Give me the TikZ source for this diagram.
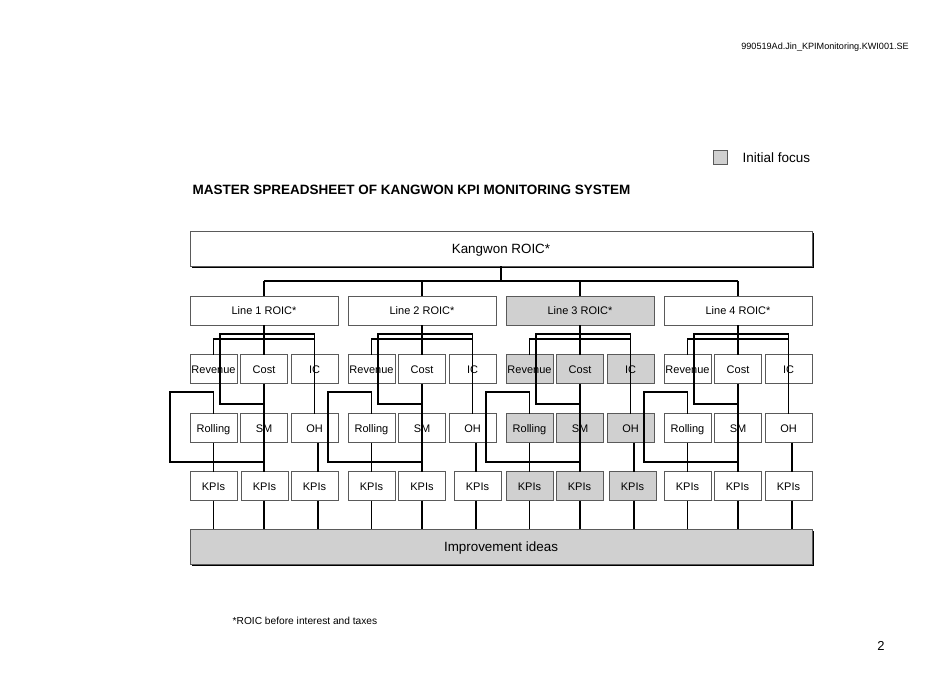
\documentclass[tikz,border=0pt]{standalone}
\usepackage{fontspec}
\setmainfont{Liberation Sans}
\usetikzlibrary{shadows}
\definecolor{focus}{HTML}{D0D0D0}
\definecolor{bord}{HTML}{5A5A5A}
\begin{document}
\begin{tikzpicture}[x=1pt,y=-1pt,
  box/.style={draw=bord, line width=0.8pt, inner sep=0pt, outer sep=0pt,
     minimum width=47pt, minimum height=29pt, text height=8pt, text depth=0pt,
     font=\fontsize{11}{13}\selectfont},
  linebox/.style={box, minimum width=148pt},
  bigbox/.style={draw=bord, line width=0.8pt, inner sep=0pt, outer sep=0pt,
     minimum width=622pt, minimum height=35pt, text height=9.6pt, text depth=0pt,
     font=\fontsize{13.4}{16}\selectfont,
     drop shadow={shadow xshift=2pt, shadow yshift=-2pt, fill=black, opacity=1}},
  conn/.style={draw=black, line width=1.7pt, line join=miter}]
\useasboundingbox (0,0) rectangle (950,673);

% texts
\node[anchor=east, inner sep=0pt, font=\fontsize{9.1}{11}\selectfont] (hdr) at (909,47) {990519Ad.Jin\_KPIMonitoring.KWI001.SE};
\node[anchor=west, inner sep=0pt, font=\fontsize{13.5}{16}\selectfont\bfseries] (title) at (192.5,190) {MASTER SPREADSHEET OF KANGWON KPI MONITORING SYSTEM};
\node[draw=bord, line width=0.8pt, fill=focus, minimum width=14pt, minimum height=14pt, inner sep=0pt] (leg) at (720,157) {};
\node[anchor=west, inner sep=0pt, font=\fontsize{13.5}{16}\selectfont] (legt) at (742.5,158) {Initial focus};
\node[anchor=west, inner sep=0pt, font=\fontsize{10.2}{12}\selectfont] (foot) at (232.5,621) {*ROIC before interest and taxes};
\node[inner sep=0pt, font=\fontsize{13}{15}\selectfont] (pnum) at (881,646) {2};

% big boxes
\node[bigbox, fill=white] (K) at (501,248.5) {Kangwon ROIC*};
\node[bigbox, fill=focus] (Imp) at (501,546.5) {Improvement ideas};

% global levels
\coordinate (topbus) at (0,281);
\coordinate (busA) at (0,334);
\coordinate (busB) at (0,339);
\coordinate (loopT) at (0,392);
\coordinate (busC) at (0,404);
\coordinate (loopB) at (0,462);

% groups: boxes
\foreach \g/\i/\fc/\ka/\kb/\kc in {0/1/white/213.5/264.5/314.5, 158/2/white/371.5/422/477.5, 316/3/focus/529.5/579.5/632.5, 474/4/white/687.5/737.5/788.5}{
  \node[linebox, fill=\fc] (L\i) at ({\g+264},310.5) {Line \i\ ROIC*};
  \node[box, fill=\fc] (Rev\i) at ({\g+213.5},369) {Revenue};
  \node[box, fill=\fc] (Cost\i) at ({\g+264},369) {Cost};
  \node[box, fill=\fc] (IC\i) at ({\g+314.5},369) {IC};
  \node[box, fill=\fc] (Rol\i) at ({\g+213.5},428) {Rolling};
  \node[box, fill=\fc] (SM\i) at ({\g+264},428) {SM};
  \node[box, fill=\fc] (OH\i) at ({\g+314.5},428) {OH};
  \node[box, fill=\fc] (KA\i) at (\ka,486) {KPIs};
  \node[box, fill=\fc] (KB\i) at (\kb,486) {KPIs};
  \node[box, fill=\fc] (KC\i) at (\kc,486) {KPIs};
  \coordinate (xa\i) at ({\g+220},0);
  \coordinate (xl\i) at ({\g+170},0);
  \coordinate (xo\i) at ({\g+318},0);
}

% top connectors
\draw[conn] (K.south) -- (K.south |- topbus);
\draw[conn] (L1.north |- topbus) -- (L4.north |- topbus);

% group connectors
\foreach \i in {1,2,3,4}{
  \draw[conn] (L\i.north |- topbus) -- (L\i.north);
  \draw[conn] (L\i.south) -- (Cost\i.north);
  \draw[conn] (Cost\i.center |- busC) -- (xa\i |- busC) -- (xa\i |- busA) -- (OH\i.north |- busA) -- (OH\i.north);
  \draw[conn] (Rev\i.north) -- (Rev\i.north |- busB) -- (OH\i.north |- busB);
  \draw[conn] (Cost\i.south) -- (Cost\i.south |- KB\i.north);
  \draw[conn] (Cost\i.south |- KB\i.south) -- (Cost\i.south |- Imp.north);
  \draw[conn] (Rol\i.north) -- (Rol\i.north |- loopT) -- (xl\i |- loopT) -- (xl\i |- loopB) -- (Cost\i.center |- loopB);
  \draw[conn] (Rol\i.south) -- (Rol\i.south |- KA\i.north);
  \draw[conn] (Rol\i.south |- KA\i.south) -- (Rol\i.south |- Imp.north);
  \draw[conn] (xo\i |- OH\i.south) -- (xo\i |- KC\i.north);
  \draw[conn] (xo\i |- KC\i.south) -- (xo\i |- Imp.north);
}
\end{tikzpicture}
\end{document}
